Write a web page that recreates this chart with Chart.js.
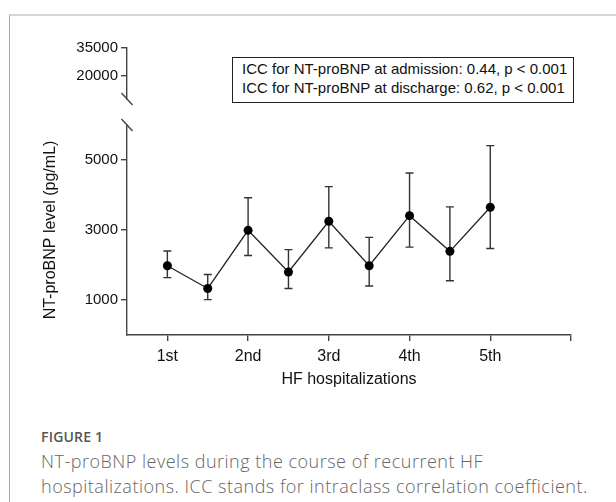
<!DOCTYPE html>
<html>
<head>
<meta charset="utf-8">
<script src="https://cdn.jsdelivr.net/npm/chart.js@4/dist/chart.umd.min.js"></script>
<style>
  body { margin: 0; background: #fff; width: 616px; height: 502px; overflow: hidden; position: relative; }
  .card { position: absolute; left: 9px; top: 14px; width: 700px; height: 600px;
          border-left: 1px solid #a8a8a8; border-top: 2px solid #d6d6d6; }
  .plot { position: absolute; left: 0; top: 0; width: 616px; height: 400px; }
  .icc { position: absolute; left: 232px; top: 57px; width: 342px; height: 46px; box-sizing: border-box;
         border: 1px solid #222; padding: 1px 0 0 9px; font: 15px "Liberation Sans", Arial, sans-serif;
         line-height: 19px; color: #111; background: #fff; }
  .fig { position: absolute; left: 41px; top: 428px; font: 600 14px "Open Sans", sans-serif;
         color: #555; line-height: 18px; letter-spacing: 0.2px; }
  .caption { position: absolute; left: 41px; top: 449px; width: 575px; font: 300 18px "Open Sans", sans-serif;
             color: #666; line-height: 25px; letter-spacing: 0.5px; white-space: nowrap; }
</style>
</head>
<body>
<div class="card"></div>
<div class="plot"><canvas id="ntChart"></canvas></div>
<div class="icc">ICC for NT-proBNP at admission: 0.44, p &lt; 0.001<br>ICC for NT-proBNP at discharge: 0.62, p &lt; 0.001</div>
<div class="fig">FIGURE 1</div>
<div class="caption">NT-proBNP levels during the course of recurrent HF<br>hospitalizations. ICC stands for intraclass correlation coefficient.</div>
<script>
// admission (whole numbers) and discharge (halves) positions
const xPositions = [1, 1.5, 2, 2.5, 3, 3.5, 4, 4.5, 5];
const meanValues = [1980, 1330, 2990, 1800, 3250, 1980, 3410, 2390, 3650];
const upperValues = [2400, 1730, 3920, 2440, 4240, 2790, 4630, 3660, 5410];
const lowerValues = [1640, 1010, 2270, 1330, 2490, 1400, 2510, 1550, 2470];

const xTickValues = [1, 2, 3, 4, 5, 6];
const xTickLabels = ['1st', '2nd', '3rd', '4th', '5th', ''];
const lowerTicks = [1000, 3000, 5000];
const upperTicks = [20000, 35000];

const axisColor = '#444';
const tickFont = { family: 'Liberation Sans', size: 15 };

const errorBars = {
  id: 'errorBars',
  beforeDatasetsDraw(chart) {
    const { ctx, scales: { x, yLow } } = chart;
    ctx.save();
    ctx.strokeStyle = '#333';
    ctx.lineWidth = 1.4;
    xPositions.forEach((xv, i) => {
      const px = x.getPixelForValue(xv);
      const top = yLow.getPixelForValue(upperValues[i]);
      const bot = yLow.getPixelForValue(lowerValues[i]);
      ctx.beginPath();
      ctx.moveTo(px, top); ctx.lineTo(px, bot);
      ctx.moveTo(px - 4, top); ctx.lineTo(px + 4, top);
      ctx.moveTo(px - 4, bot); ctx.lineTo(px + 4, bot);
      ctx.stroke();
    });
    ctx.restore();
  }
};

// the "\" marks where the y axis is broken
const axisBreak = {
  id: 'axisBreak',
  afterDraw(chart) {
    const { ctx, scales: { yTop, yLow } } = chart;
    const ax = yLow.right;
    ctx.save();
    ctx.strokeStyle = axisColor;
    ctx.lineWidth = 1.4;
    [yTop.bottom, yLow.top].forEach(y => {
      ctx.beginPath();
      ctx.moveTo(ax - 5.5, y - 6);
      ctx.lineTo(ax + 5.5, y + 6);
      ctx.stroke();
    });
    ctx.restore();
  }
};

function yAxis(extra) {
  return Object.assign({
    type: 'linear',
    position: 'left',
    stack: 'y',
    grid: { drawOnChartArea: false, drawTicks: true, tickLength: 6, color: axisColor, lineWidth: 1.4 },
    border: { display: true, color: axisColor, width: 1.4 },
    ticks: { font: tickFont, color: '#111', padding: 3, callback: v => String(v) }
  }, extra);
}

new Chart(document.getElementById('ntChart'), {
  type: 'line',
  data: {
    datasets: [{
      data: xPositions.map((x, i) => ({ x: x, y: meanValues[i] })),
      yAxisID: 'yLow',
      borderColor: '#222',
      borderWidth: 1.3,
      pointRadius: 4.5,
      pointBackgroundColor: '#000',
      pointBorderWidth: 0,
      tension: 0,
      clip: false
    }]
  },
  options: {
    responsive: true,
    maintainAspectRatio: false,
    animation: false,
    layout: { padding: { top: 48, right: 45, left: 0, bottom: 0 } },
    plugins: { legend: { display: false }, tooltip: { enabled: false } },
    scales: {
      x: {
        type: 'linear',
        min: 0.5,
        max: 6,
        afterBuildTicks: s => { s.ticks = xTickValues.map(v => ({ value: v })); },
        afterFit: s => { s.height = 65; },
        grid: { drawOnChartArea: false, tickLength: 6, color: axisColor, lineWidth: 1.4 },
        border: { color: axisColor, width: 1.4 },
        ticks: {
          font: { family: 'Liberation Sans', size: 16 },
          color: '#111',
          padding: 6,
          maxRotation: 0,
          autoSkip: false,
          callback: v => xTickLabels[xTickValues.indexOf(v)]
        },
        title: {
          display: true,
          text: 'HF hospitalizations',
          color: '#111',
          font: { family: 'Liberation Sans', size: 16 },
          padding: { top: 0, bottom: 11 }
        }
      },
      yTop: yAxis({
        weight: 3,
        stackWeight: 51,
        min: 7700,
        max: 35000,
        afterBuildTicks: s => { s.ticks = upperTicks.map(v => ({ value: v })); }
      }),
      yGap: {
        type: 'linear',
        position: 'left',
        stack: 'y',
        weight: 2,
        stackWeight: 26,
        min: 0,
        max: 1,
        ticks: { display: false },
        grid: { display: false },
        border: { display: false }
      },
      yLow: yAxis({
        weight: 1,
        stackWeight: 210,
        min: 0,
        max: 6000,
        afterBuildTicks: s => { s.ticks = lowerTicks.map(v => ({ value: v })); },
        afterFit: s => { s.width = 127; },
        title: {
          display: true,
          text: 'NT-proBNP level (pg/mL)',
          color: '#111',
          font: { family: 'Liberation Sans', size: 16 },
          padding: { top: 41, bottom: 0 }
        }
      })
    }
  },
  plugins: [errorBars, axisBreak]
});
</script>
</body>
</html>
